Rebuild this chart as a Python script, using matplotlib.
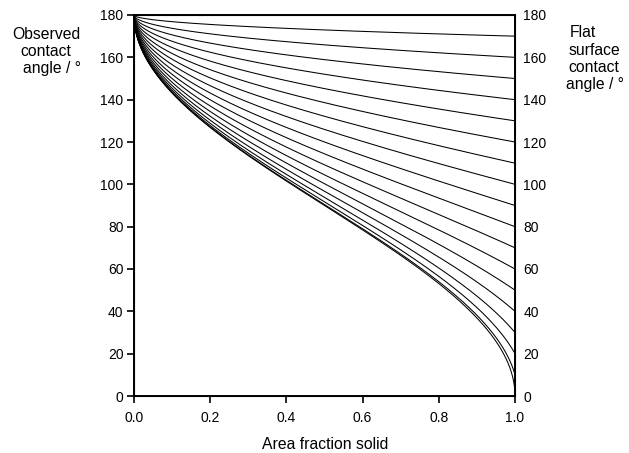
import numpy as np
import matplotlib
matplotlib.use("Agg")
import matplotlib.pyplot as plt

# Flat-surface contact angles (degrees), one curve each
flat_angles = [0, 10, 20, 30, 40, 50, 60, 70, 80, 90, 100, 110, 120, 130, 140, 150, 160, 170]
y_ticks = [0, 20, 40, 60, 80, 100, 120, 140, 160, 180]
x_ticks = [0.0, 0.2, 0.4, 0.6, 0.8, 1.0]
x_tick_labels = ["0.0", "0.2", "0.4", "0.6", "0.8", "1.0"]

plt.rcParams['font.family'] = ['Liberation Sans', 'DejaVu Sans']

W, H = 629, 453
fig = plt.figure(figsize=(W/100, H/100), dpi=100)
ax = fig.add_axes([134/W, 1-396/H, 381/W, 381/H])

# Cassie-Baxter: cos(theta*) = f (cos(theta) + 1) - 1
f = np.unique(np.concatenate([np.geomspace(1e-7, 1, 600), np.linspace(0, 1, 600)]))
for th in flat_angles:
    c = f * (np.cos(np.radians(th)) + 1) - 1
    obs = np.degrees(np.arccos(np.clip(c, -1, 1)))
    ax.plot(f, obs, color='black', lw=0.75)

ax.set_xlim(0, 1)
ax.set_ylim(0, 180)
ax.set_xticks(x_ticks)
ax.set_xticklabels(x_tick_labels)
ax.set_yticks(y_ticks)
for s in ax.spines.values():
    s.set_linewidth(1.4)
ax.tick_params(axis='both', direction='out', length=5, width=1.2, labelsize=10)
ax.tick_params(axis='y', pad=2.5)
ax.tick_params(axis='x', pad=6)

ax2 = ax.twinx()
ax2.set_ylim(0, 180)
ax2.set_yticks(y_ticks)
ax2.tick_params(axis='y', length=0, labelsize=10, pad=6)

fs = 11.3
def t(x, ybase, s):
    fig.text(x/W, 1-ybase/H, s, fontsize=fs, ha='center', va='baseline')

t(325, 449, "Area fraction solid")
t(46, 39, "Observed")
t(46, 56, "contact")
t(52, 73, "angle / °")
t(583, 37, "Flat")
t(594, 55, "surface")
t(594, 72, "contact")
t(595, 89, "angle / °")

fig.savefig("out.png", dpi=100)
